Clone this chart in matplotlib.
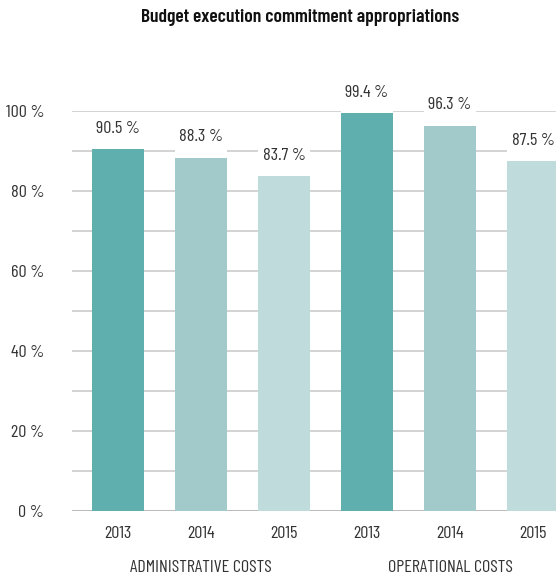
import matplotlib
matplotlib.use('Agg')
import matplotlib.pyplot as plt
import numpy as np

plt.rcParams['font.family'] = ['Barlow Condensed', 'Roboto Condensed', 'Archivo Narrow', 'DejaVu Sans']

groups = ['ADMINISTRATIVE COSTS', 'OPERATIONAL COSTS']
years = ['2013', '2014', '2015']
admin = [90.5, 88.3, 83.7]
operational = [99.4, 96.3, 87.5]
colors = ['#5fafaf', '#a2caca', '#bfdbdb']


def main():
    values = admin + operational
    x = np.arange(len(values))
    bar_colors = colors * len(groups)
    width = 0.627
    fs = 13

    fig = plt.figure(figsize=(5.56, 5.81), dpi=100)
    ax = fig.add_axes([72 / 556, 70 / 581, 484 / 556, 400 / 581])

    # gridlines every 10 %, labels every 20 %
    ax.set_ylim(0, 100)
    ax.set_xlim(-0.554, 5.277)
    ax.set_yticks(np.arange(0, 101, 20))
    ax.set_yticks(np.arange(10, 100, 20), minor=True)
    ax.set_yticklabels([f'{v} %' for v in range(0, 101, 20)])
    ax.grid(axis='y', which='both', color='#cccccc', linewidth=1.2)
    ax.set_axisbelow(True)
    ax.axhline(0, color='#bbbbbb', linewidth=1.4, zorder=1)
    for s in ax.spines.values():
        s.set_visible(False)
    ax.tick_params(axis='both', which='both', length=0, labelsize=fs, colors='#333333')
    ax.tick_params(axis='y', pad=20)
    ax.tick_params(axis='x', pad=11)

    # white boxes behind the value labels, hiding the gridlines
    ax.bar(x, 8.6, bottom=values, width=width, color='white', zorder=2, clip_on=False)
    ax.bar(x, values, width=width, color=bar_colors, zorder=3)

    for xi, v in zip(x, values):
        ax.annotate(f'{v} %', (xi, v), xytext=(0, 15), textcoords='offset points',
                    ha='center', va='center', fontsize=fs, color='#333333',
                    zorder=4, annotation_clip=False)

    ax.set_xticks(x)
    ax.set_xticklabels(years * len(groups))

    for i, g in enumerate(groups):
        ax.text(i * 3 + 1, -0.1425, g, transform=ax.get_xaxis_transform(),
                ha='center', va='center', fontsize=fs, color='#333333')

    fig.text(300 / 556, 1 - 18 / 581, 'Budget execution commitment appropriations',
             ha='center', va='center', fontsize=14, fontweight='semibold', color='#111111')

    plt.savefig('out.png', dpi=100)


if __name__ == '__main__':
    main()
